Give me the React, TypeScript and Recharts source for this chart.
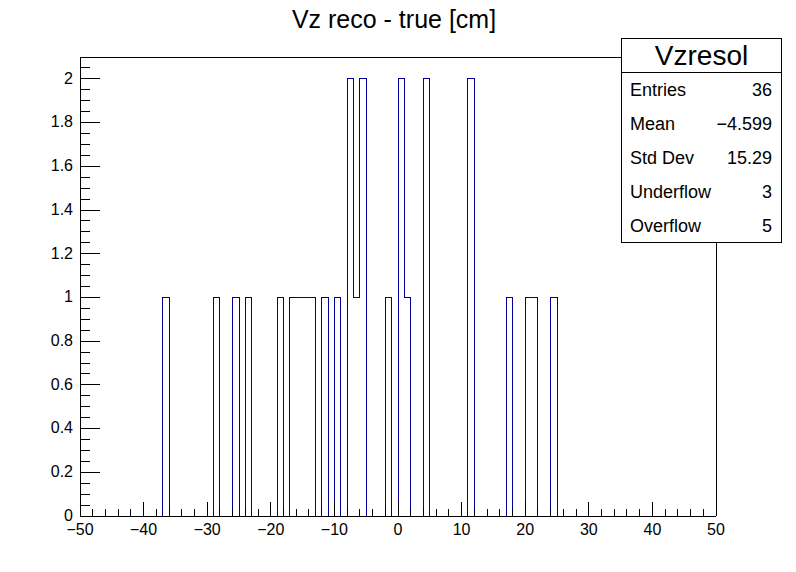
import { ComposedChart, Line, XAxis, YAxis } from "recharts";

// Vzresol histogram: 100 bins of 1 cm between -50 and 50
const X_MIN = -50;
const X_MAX = 50;
const Y_MAX = 2.1;

// low edges of the non-empty bins and their contents
const binLowEdges = [-37, -29, -26, -24, -19, -17, -16, -15, -14, -12, -10, -8, -7, -6, -2, 0, 1, 4, 11, 17, 20, 21, 24];
const binCounts = [1, 1, 1, 1, 1, 1, 1, 1, 1, 1, 1, 2, 1, 2, 1, 2, 1, 2, 2, 1, 1, 1, 1];

const statsLabels = ["Entries", "Mean", "Std Dev", "Underflow", "Overflow"];
const statsValues = ["36", "\u22124.599", "15.29", "3", "5"];

const title = "Vz reco - true [cm]";
const histName = "Vzresol";

const histData: { x: number; y: number }[] = [];
for (let lo = X_MIN; lo < X_MAX; lo++) {
  const i = binLowEdges.indexOf(lo);
  histData.push({ x: lo, y: i >= 0 ? binCounts[i] : 0 });
}
histData.push({ x: X_MAX, y: 0 });

// major + minor tick positions (ROOT style 510 divisions)
const xTicks: number[] = [];
for (let v = X_MIN; v <= X_MAX; v += 2) xTicks.push(v);
const yTicks: number[] = [];
for (let i = 0; i <= 41; i++) yTicks.push(Math.round(i * 5) / 100);

const FONT = "'Liberation Sans', Arial, Helvetica, sans-serif";

function fmt(v: number) {
  return v < 0 ? `\u2212${-v}` : String(v);
}

function XTick(props: any) {
  const { x, y, payload } = props;
  const v = payload.value;
  const major = v % 10 === 0;
  return (
    <g>
      <line x1={x} y1={y} x2={x} y2={y - (major ? 14 : 7)} stroke="#000" />
      {major && (
        <text x={x} y={y + 19} textAnchor="middle" fontSize={16} fill="#000" fontFamily={FONT}>
          {fmt(v)}
        </text>
      )}
    </g>
  );
}

function YTick(props: any) {
  const { x, y, payload } = props;
  const v = payload.value;
  const major = Math.round(v * 100) % 20 === 0;
  return (
    <g>
      <line x1={x} y1={y} x2={x + (major ? 20 : 10)} y2={y} stroke="#000" />
      {major && (
        <text x={x - 7} y={y} dy="0.3em" textAnchor="end" fontSize={16} fill="#000" fontFamily={FONT}>
          {String(v)}
        </text>
      )}
    </g>
  );
}

export default function App() {
  return (
    <div
      className="hist"
      style={{ position: "absolute", left: 0, top: 0, width: 796, height: 572, background: "#fff", fontFamily: FONT }}
    >
      <style>{`.hist svg path, .hist svg line { shape-rendering: crispEdges; }`}</style>
      <ComposedChart width={796} height={572} data={histData} margin={{ top: 0, right: 0, bottom: 0, left: 0 }}>
        <XAxis
          dataKey="x"
          type="number"
          domain={[X_MIN, X_MAX]}
          ticks={xTicks}
          interval={0}
          tick={XTick}
          tickLine={false}
          tickSize={0}
          tickMargin={0}
          height={56}
          axisLine={{ stroke: "#000" }}
          allowDataOverflow
        />
        <XAxis
          xAxisId="top"
          orientation="top"
          type="number"
          domain={[X_MIN, X_MAX]}
          height={57}
          tick={false}
          tickLine={false}
          axisLine={{ stroke: "#000" }}
        />
        <YAxis
          type="number"
          domain={[0, Y_MAX]}
          ticks={yTicks}
          interval={0}
          tick={YTick}
          tickLine={false}
          tickSize={0}
          tickMargin={0}
          width={80}
          axisLine={{ stroke: "#000" }}
          allowDataOverflow
        />
        <YAxis
          yAxisId="right"
          orientation="right"
          type="number"
          domain={[0, Y_MAX]}
          width={80}
          tick={false}
          tickLine={false}
          axisLine={{ stroke: "#000" }}
        />
        <Line
          type="stepAfter"
          dataKey="y"
          stroke="#000099"
          strokeWidth={1}
          dot={false}
          activeDot={false}
          isAnimationActive={false}
        />
      </ComposedChart>

      <div
        style={{
          position: "absolute",
          left: 194,
          top: 7,
          width: 400,
          textAlign: "center",
          fontSize: 25,
          lineHeight: "25px",
          color: "#000",
          whiteSpace: "nowrap",
        }}
      >
        {title}
      </div>

      <div
        style={{
          position: "absolute",
          left: 621,
          top: 38,
          width: 161,
          height: 205,
          boxSizing: "border-box",
          border: "1px solid #000",
          background: "#fff",
          color: "#000",
        }}
      >
        <div
          style={{
            height: 33,
            borderBottom: "1px solid #000",
            fontSize: 28,
            lineHeight: "33px",
            textAlign: "center",
          }}
        >
          {histName}
        </div>
        <div>
          {statsLabels.map((label, i) => (
            <div
              key={label}
              style={{
                height: 34,
                display: "flex",
                justifyContent: "space-between",
                alignItems: "center",
                fontSize: 18,
                padding: "0 9px 0 8px",
              }}
            >
              <span>{label}</span>
              <span>{statsValues[i]}</span>
            </div>
          ))}
        </div>
      </div>
    </div>
  );
}
